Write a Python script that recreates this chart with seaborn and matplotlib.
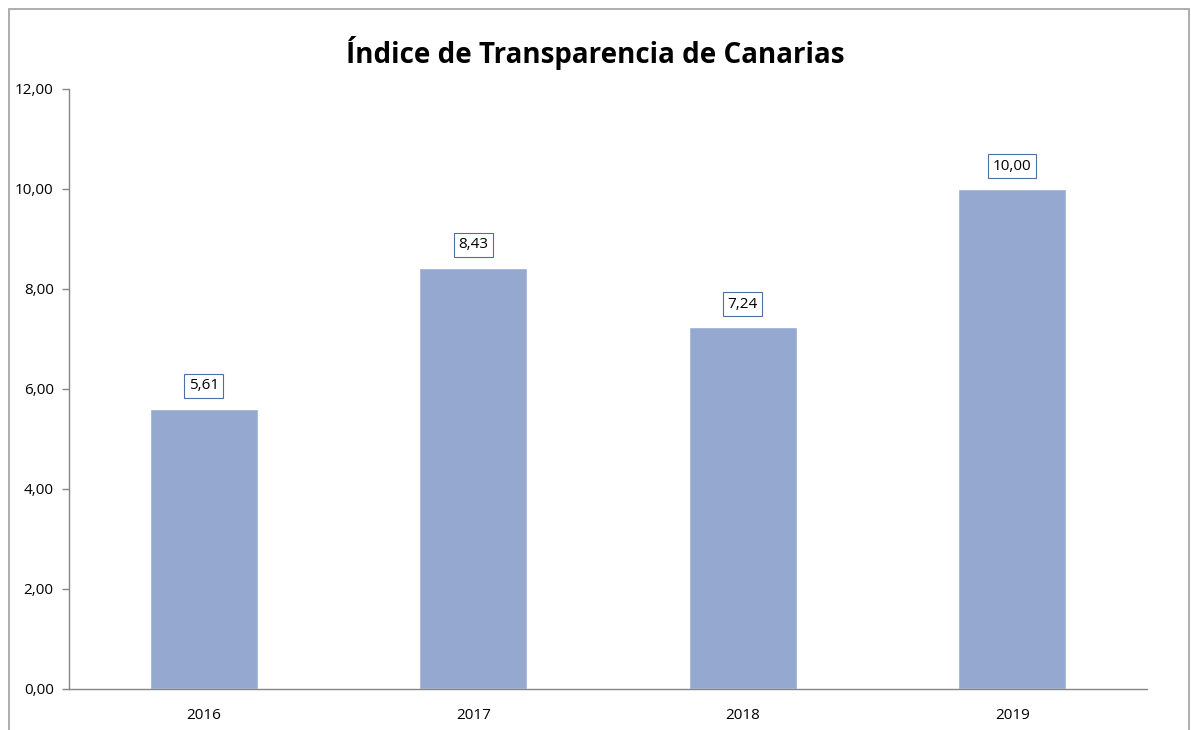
import numpy as np
import pandas as pd
import matplotlib.pyplot as plt
import seaborn as sns
from matplotlib.patches import Rectangle

# Data
years = ['2016', '2017', '2018', '2019']
indice = [5.61, 8.43, 7.24, 10.00]

df = pd.DataFrame({'Año': years, 'Índice': indice})

sns.set_style('white')
plt.rcParams['font.family'] = ['Open Sans', 'DejaVu Sans']
plt.rcParams['text.color'] = '#000000'
plt.rcParams['xtick.labelcolor'] = '#000000'
plt.rcParams['ytick.labelcolor'] = '#000000'

fig = plt.figure(figsize=(11.91, 7.30), dpi=100)
ax = fig.add_axes([69 / 1191, 1 - 689 / 730, (1147 - 69) / 1191, (689 - 89) / 730])

sns.barplot(data=df, x='Año', y='Índice', color='#95A9D0', saturation=1, width=0.4, ax=ax)

ax.set_xlim(-0.5, 3.5)
ax.set_ylim(0, 12)
ax.set_yticks(np.arange(0, 13, 2))
ax.set_yticklabels([f'{v:.2f}'.replace('.', ',') for v in np.arange(0, 13, 2)], fontsize=11)
ax.set_xticks(range(len(years)))
ax.set_xticklabels(years, fontsize=11)
ax.set_xticks(np.arange(-0.5, 4, 1), minor=True)
ax.tick_params(axis='x', which='major', length=0, pad=14)
ax.tick_params(axis='x', which='minor', length=5, color='#868686', width=1)
ax.tick_params(axis='y', length=5, color='#868686', width=1, left=True, pad=6)
ax.set_xlabel('')
ax.set_ylabel('')

for s in ['top', 'right']:
    ax.spines[s].set_visible(False)
for s in ['left', 'bottom']:
    ax.spines[s].set_color('#868686')
    ax.spines[s].set_linewidth(1)

for i, v in enumerate(indice):
    ax.annotate(f'{v:.2f}'.replace('.', ','), (i, v), xytext=(0, 11), textcoords='offset points',
                ha='center', va='bottom', fontsize=11,
                bbox=dict(boxstyle='square,pad=0.3', fc='white', ec='#4F6FA0', lw=0.8))

fig.suptitle('Índice de Transparencia de Canarias', fontsize=20, fontweight='bold', y=0.951)

# outer chart border
fig.patches.append(Rectangle((9 / 1191, -0.1), (1189 - 9) / 1191, 1.1 - 9 / 730,
                             transform=fig.transFigure, fill=False, ec='#A0A0A0', lw=1.2))

fig.savefig('out.png', dpi=100)
